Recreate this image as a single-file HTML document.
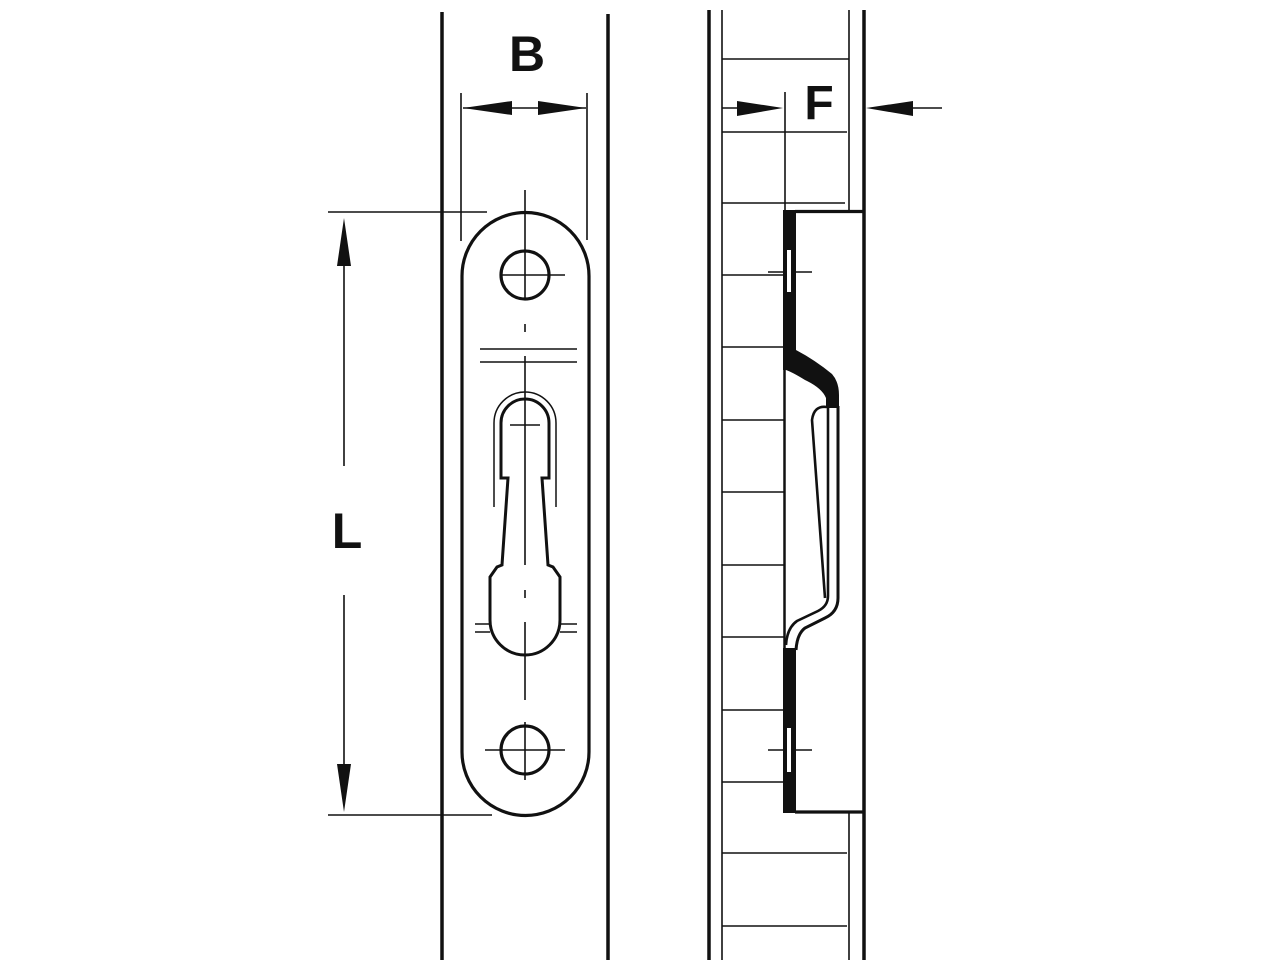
<!DOCTYPE html>
<html><head><meta charset="utf-8"><style>
html,body{margin:0;padding:0;background:#fff;}
svg{display:block;}
text{font-family:"Liberation Sans",Arial,sans-serif;font-weight:bold;fill:#111;}
</style></head><body>
<svg width="1280" height="960" viewBox="0 0 1280 960" xmlns="http://www.w3.org/2000/svg">
<g stroke="#111" fill="none" stroke-linecap="butt">
<!-- LEFT VIEW -->
<line x1="442" y1="12" x2="442" y2="960" stroke-width="3.5"/>
<line x1="608" y1="14" x2="608" y2="960" stroke-width="3.5"/>
<!-- B dim -->
<line x1="461" y1="93" x2="461" y2="241" stroke-width="1.6"/>
<line x1="587" y1="93" x2="587" y2="240" stroke-width="1.6"/>
<line x1="463" y1="108" x2="586" y2="108" stroke-width="1.6"/>
<!-- L dim -->
<line x1="328" y1="212" x2="487" y2="212" stroke-width="1.6"/>
<line x1="328" y1="815" x2="492" y2="815" stroke-width="1.6"/>
<line x1="344" y1="240" x2="344" y2="466" stroke-width="1.6"/>
<line x1="344" y1="595" x2="344" y2="790" stroke-width="1.6"/>
<!-- plate -->
<path d="M462 276 A63 63 0 0 1 589 276 L589 752 A63 63 0 0 1 462 752 Z" stroke-width="3.2"/>
<circle cx="525" cy="275" r="24" stroke-width="3.2"/>
<circle cx="525" cy="750" r="24" stroke-width="3.2"/>
<line x1="500" y1="275" x2="565" y2="275" stroke-width="1.6"/>
<line x1="485" y1="750" x2="565" y2="750" stroke-width="1.6"/>
<line x1="525" y1="190" x2="525" y2="300" stroke-width="1.6"/>
<line x1="525" y1="324" x2="525" y2="332" stroke-width="1.6"/>
<line x1="525" y1="356" x2="525" y2="565" stroke-width="1.6"/>
<line x1="525" y1="590" x2="525" y2="598" stroke-width="1.6"/>
<line x1="525" y1="622" x2="525" y2="700" stroke-width="1.6"/>
<line x1="525" y1="722" x2="525" y2="780" stroke-width="1.6"/>
<line x1="480" y1="349" x2="577" y2="349" stroke-width="1.6"/>
<line x1="480" y1="362" x2="577" y2="362" stroke-width="1.6"/>
<!-- keyhole -->
<path d="M501 478 L501 423 A24 24 0 0 1 549 423 L549 478 L542 478 L548 565 L553 567 L560 577 L560 620 A35 35 0 0 1 490 620 L490 577 L497 567 L502 565 L508 478 Z" stroke-width="3"/>
<path d="M494 507 L494 423 A31 31 0 0 1 556 423 L556 507" stroke-width="1.5"/>
<line x1="510" y1="425" x2="540" y2="425" stroke-width="1.5"/>
<line x1="475" y1="624" x2="490" y2="624" stroke-width="1.5"/>
<line x1="475" y1="632" x2="490" y2="632" stroke-width="1.5"/>
<line x1="560" y1="624" x2="577" y2="624" stroke-width="1.5"/>
<line x1="560" y1="632" x2="577" y2="632" stroke-width="1.5"/>

<!-- RIGHT VIEW -->
<line x1="709" y1="10" x2="709" y2="960" stroke-width="3.5"/>
<line x1="864" y1="10" x2="864" y2="960" stroke-width="3.5"/>
<line x1="722" y1="10" x2="722" y2="960" stroke-width="1.6"/>
<line x1="849" y1="10" x2="849" y2="210" stroke-width="1.6"/>
<line x1="849" y1="813" x2="849" y2="960" stroke-width="1.6"/>
<line x1="722" y1="59" x2="849" y2="59" stroke-width="1.6"/>
<line x1="722" y1="132" x2="847" y2="132" stroke-width="1.6"/>
<line x1="722" y1="203" x2="845" y2="203" stroke-width="1.6"/>
<line x1="722" y1="275" x2="784" y2="275" stroke-width="1.6"/>
<line x1="722" y1="347" x2="784" y2="347" stroke-width="1.6"/>
<line x1="722" y1="420" x2="784" y2="420" stroke-width="1.6"/>
<line x1="722" y1="492" x2="784" y2="492" stroke-width="1.6"/>
<line x1="722" y1="565" x2="784" y2="565" stroke-width="1.6"/>
<line x1="722" y1="637" x2="784" y2="637" stroke-width="1.6"/>
<line x1="722" y1="710" x2="784" y2="710" stroke-width="1.6"/>
<line x1="722" y1="782" x2="784" y2="782" stroke-width="1.6"/>
<line x1="722" y1="853" x2="847" y2="853" stroke-width="1.6"/>
<line x1="722" y1="926" x2="847" y2="926" stroke-width="1.6"/>
<line x1="785" y1="92" x2="785" y2="210" stroke-width="1.6"/>
<line x1="722" y1="108" x2="760" y2="108" stroke-width="1.6"/>
<line x1="890" y1="108" x2="942" y2="108" stroke-width="1.6"/>
<!-- plate outline -->
<line x1="795" y1="211.5" x2="864" y2="211.5" stroke-width="3.2"/>
<line x1="795" y1="812" x2="864" y2="812" stroke-width="3.2"/>
<line x1="784.5" y1="360" x2="784.5" y2="655" stroke-width="2.5"/>
<path d="M838 406 L838 598 Q838 612 825 618 L805 628 Q797 634 796 650" stroke-width="3"/>
<path d="M828 406 L828 596 Q828 606 818 611 L797 621 Q787 628 786 645" stroke-width="2.6"/>
<path d="M827 407 Q814 405 812 420 L825 598" stroke-width="2.6"/>
<line x1="768" y1="272" x2="812" y2="272" stroke-width="1.6"/>
<line x1="768" y1="750" x2="812" y2="750" stroke-width="1.6"/>
</g>
<g fill="#111" stroke="none">
<!-- arrowheads -->
<polygon points="463,108 512,101 512,115"/>
<polygon points="586,108 538,101 538,115"/>
<polygon points="344,218 337,266 351,266"/>
<polygon points="344,812 337,764 351,764"/>
<polygon points="783,108 737,101 737,116"/>
<polygon points="866,108 913,101 913,116"/>
<!-- plate band -->
<path d="M783 210 L796 210 L796 350 Q815 360 832 374 Q839 382 839 395 L839 408 L826 408 L826 398 Q822 388 805 380 Q792 372 786 370 L783 370 Z"/>
<path d="M783 648 L796 648 L796 813 L783 813 Z"/>
</g>
<g fill="#fff" stroke="none">
<rect x="787" y="250" width="4" height="42"/>
<rect x="787" y="728" width="4" height="44"/>
</g>
<text x="527" y="71" font-size="50" text-anchor="middle">B</text>
<text x="347" y="548" font-size="50" text-anchor="middle">L</text>
<text x="819" y="119" font-size="48" text-anchor="middle">F</text>
</svg>
</body></html>
